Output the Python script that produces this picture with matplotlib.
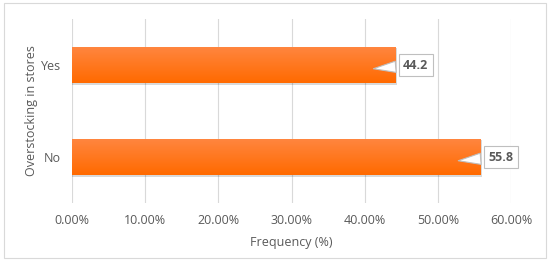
import matplotlib.pyplot as plt
import numpy as np
from matplotlib.ticker import PercentFormatter
from matplotlib.patches import Rectangle

categories = ["No", "Yes"]
values = [0.558, 0.442]
labels = ["55.8", "44.2"]
xticks = [0, 0.1, 0.2, 0.3, 0.4, 0.5, 0.6]

plt.rcParams['font.family'] = ['Open Sans', 'DejaVu Sans']
grey = "#595959"

fig = plt.figure(figsize=(5.5, 2.61), dpi=100)
ax = fig.add_axes([0.131, 0.222, 0.798, 0.705])

y = np.arange(len(categories))
h = 0.4

# shadow
ax.barh(y - 0.02, np.array(values) + 0.002, height=h, color="#000000", alpha=0.15, zorder=2)
bars = ax.barh(y, values, height=h, color="#FF7020", zorder=3)

# vertical gradient on each bar
grad = np.linspace(0, 1, 50).reshape(-1, 1)
cmap = plt.matplotlib.colors.LinearSegmentedColormap.from_list("o", ["#FF6A00", "#FF8640"])
for b in bars:
    x0, y0, w, hh = b.get_x(), b.get_y(), b.get_width(), b.get_height()
    im = ax.imshow(grad, extent=[x0, x0 + w, y0, y0 + hh], origin="lower",
                   cmap=cmap, aspect="auto", zorder=4)
    im.set_clip_path(b)

# callout labels
for yi, v, lab in zip(y, values, labels):
    ax.annotate(lab, xy=(v - 0.03, yi - 0.04), xytext=(v + 0.028, yi),
                fontsize=9, fontweight="bold", color=grey, ha="center", va="center",
                bbox=dict(boxstyle="square,pad=0.35", fc="white", ec="#BFBFBF", lw=0.8),
                arrowprops=dict(arrowstyle="wedge,tail_width=0.9,shrink_factor=0.5",
                                fc="white", ec="#BFBFBF", lw=0.8, shrinkB=0),
                zorder=6)

ax.set_xlim(0, 0.6)
ax.set_ylim(-0.5, 1.5)
ax.set_xticks(xticks)
ax.xaxis.set_major_formatter(PercentFormatter(1.0, decimals=2))
ax.set_yticks(y)
ax.set_yticklabels(categories)
ax.grid(axis="x", color="#D9D9D9", lw=0.8, zorder=0)
ax.set_axisbelow(True)
for s in ax.spines.values():
    s.set_visible(False)
ax.tick_params(length=0, labelsize=9, colors=grey, pad=8)
ax.set_xlabel("Frequency (%)", fontsize=9, color=grey, labelpad=6)
ax.set_ylabel("Overstocking in stores", fontsize=9, color=grey)
ax.yaxis.set_label_coords(-0.078, 0.5)

fig.patches.append(Rectangle((0.008, 0.012), 0.984, 0.976, transform=fig.transFigure,
                             fill=False, ec="#D9D9D9", lw=0.8))

fig.savefig("out.png", dpi=100)
